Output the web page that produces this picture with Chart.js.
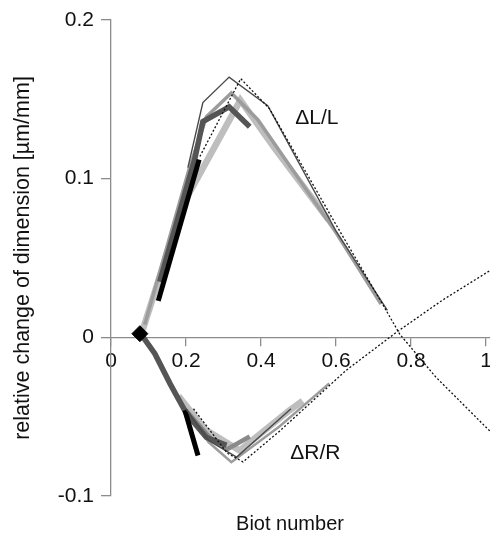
<!DOCTYPE html>
<html><head><meta charset="utf-8">
<style>html,body{margin:0;padding:0;background:#fff;overflow:hidden;width:490px;height:540px}canvas{display:block}</style>
<script src="https://cdn.jsdelivr.net/npm/chart.js@4/dist/chart.umd.min.js"></script>
</head><body>
<canvas id="c" width="540" height="540"></canvas>
<script>
// ---- data ----
const xTicks = [0, 0.2, 0.4, 0.6, 0.8, 1];
const xTickLabels = ['0', '0.2', '0.4', '0.6', '0.8', '1'];
const yTicks = [-0.1, 0, 0.1, 0.2];
const yTickLabels = ['-0.1', '0', '0.1', '0.2'];
const xTitle = 'Biot number';
const yTitle = 'relative change of dimension [µm/mm]';

// ΔL/L curves  [Biot, value]
const lightL = [[0.085,0.005],[0.19,0.083],[0.345,0.1495],[0.44,0.118],[0.58,0.074]];
const medL   = [[0.09,0.008],[0.21,0.1075],[0.2545,0.139],[0.321,0.154],[0.392,0.137],[0.6,0.066],[0.72,0.021]];
const darkL  = [[0.13,0.035],[0.223,0.112],[0.245,0.136],[0.315,0.1453],[0.37,0.1327]];
const blackL = [[0.126,0.023],[0.235,0.112]];
const thinL  = [[0.205,0.107],[0.245,0.148],[0.315,0.164],[0.418,0.146],[0.6,0.067],[0.737,0.017]];
const dotL   = [[0.237,0.114],[0.346,0.163],[0.423,0.144],[0.6,0.071],[0.724,0.021],[0.77,0.002],[0.866,-0.025],[1.01,-0.059]];

// ΔR/R curves
const lightR = [[0.18,-0.037],[0.25,-0.058],[0.343,-0.0713],[0.476,-0.046],[0.511,-0.040]];
const medR   = [[0.19,-0.042],[0.26,-0.066],[0.321,-0.0787],[0.45,-0.056],[0.582,-0.029]];
const medThickR = [[0.2,-0.046],[0.27,-0.065],[0.31,-0.0705],[0.37,-0.0625]];
const darkR  = [[0.08,0.002],[0.117,-0.0103],[0.157,-0.029],[0.201,-0.048],[0.254,-0.063],[0.308,-0.068]];
const blackR = [[0.197,-0.046],[0.232,-0.0745]];
const thinR  = [[0.2,-0.045],[0.26,-0.065],[0.335,-0.0755],[0.48,-0.045]];
const dotR   = [[0.22,-0.045],[0.31,-0.073],[0.352,-0.0785],[0.45,-0.059],[0.627,-0.0208],[0.76,0.003],[0.883,0.0233],[1.01,0.042]];

const startPoint = [[0.077,0.0023]];

const noteTexts = ['ΔL/L', 'ΔR/R'];
const noteX = [0.549, 0.545];
const noteY = [0.1384, -0.0731];

// ---- chart ----
Chart.defaults.font.family = '"Liberation Sans", Arial, sans-serif';
const pts = a => a.map(p => ({x: p[0], y: p[1]}));
const line = (a, color, w, dash) => ({
  data: pts(a), showLine: true, borderColor: color, borderWidth: w,
  borderDash: dash || [], pointRadius: 0, tension: 0, fill: false,
  borderCapStyle: 'butt', borderJoinStyle: 'miter'
});

// first = drawn on top
const datasets = [
  {data: pts(startPoint), showLine: false, pointStyle: 'rectRot', pointRadius: 8,
   backgroundColor: '#000', borderColor: '#000', borderWidth: 1},
  line(dotL, '#111', 1.3, [2, 2]),
  line(dotR, '#111', 1.3, [2, 2]),
  line(thinL, '#4a4a4a', 1.4),
  line(thinR, '#4a4a4a', 1.4),
  line(blackL, '#000', 5),
  line(blackR, '#000', 5),
  line(darkL, '#555', 5.5),
  line(darkR, '#555', 5.5),
  line(medThickR, '#8a8a8a', 4.5),
  line(medL, '#9c9c9c', 3.5),
  line(medR, '#9c9c9c', 2.5),
  line(lightL, '#bebebe', 6.5),
  line(lightR, '#bebebe', 6.5)
];

const notesPlugin = {
  id: 'notes',
  afterDatasetsDraw(chart) {
    const {ctx, scales} = chart;
    ctx.save();
    ctx.fillStyle = '#111';
    ctx.font = '21px "Liberation Sans", Arial, sans-serif';
    ctx.textAlign = 'center';
    ctx.textBaseline = 'middle';
    noteTexts.forEach((t, i) => {
      ctx.fillText(t, scales.x.getPixelForValue(noteX[i]), scales.y.getPixelForValue(noteY[i]));
    });
    ctx.restore();
  }
};

const axisGray = '#8c8c8c';
new Chart(document.getElementById('c'), {
  type: 'scatter',
  data: {datasets},
  options: {
    responsive: false, animation: false, events: [],
    layout: {padding: {left: 40, top: 20, right: 0, bottom: 0}},
    plugins: {
      legend: {display: false}, tooltip: {enabled: false},
      title: {display: true, position: 'bottom', text: xTitle, color: '#111',
              font: {size: 20, weight: 'normal', lineHeight: '2px'}, padding: {top: 27, bottom: 15}}
    },
    scales: {
      x: {
        type: 'linear', position: {y: 0}, min: 0, max: 1.12,
        afterBuildTicks: s => { s.ticks = xTicks.map(v => ({value: v})); },
        afterFit: s => { s.height = 16; },
        ticks: {callback: (v, i) => xTickLabels[i], font: {size: 21}, color: '#111', padding: 3,
                autoSkip: false, maxRotation: 0, includeBounds: false},
        grid: {drawOnChartArea: false, drawTicks: true, tickLength: 8, color: axisGray, lineWidth: 1.3},
        border: {display: true, color: axisGray, width: 1.3}
      },
      y: {
        type: 'linear', position: 'left', min: -0.1, max: 0.2,
        afterBuildTicks: s => { s.ticks = yTicks.map(v => ({value: v})); },
        afterFit: s => { s.width = 71; },
        ticks: {callback: (v, i) => yTickLabels[i], font: {size: 21}, color: '#111', padding: 7, includeBounds: false},
        grid: {drawOnChartArea: false, drawTicks: true, tickLength: 10, color: axisGray, lineWidth: 1.3},
        border: {display: true, color: axisGray, width: 1.3},
        title: {display: true, text: yTitle, color: '#111', font: {size: 21.5}, padding: {top: -29.6, bottom: 0}}
      }
    }
  },
  plugins: [notesPlugin]
});
</script>
</body></html>
